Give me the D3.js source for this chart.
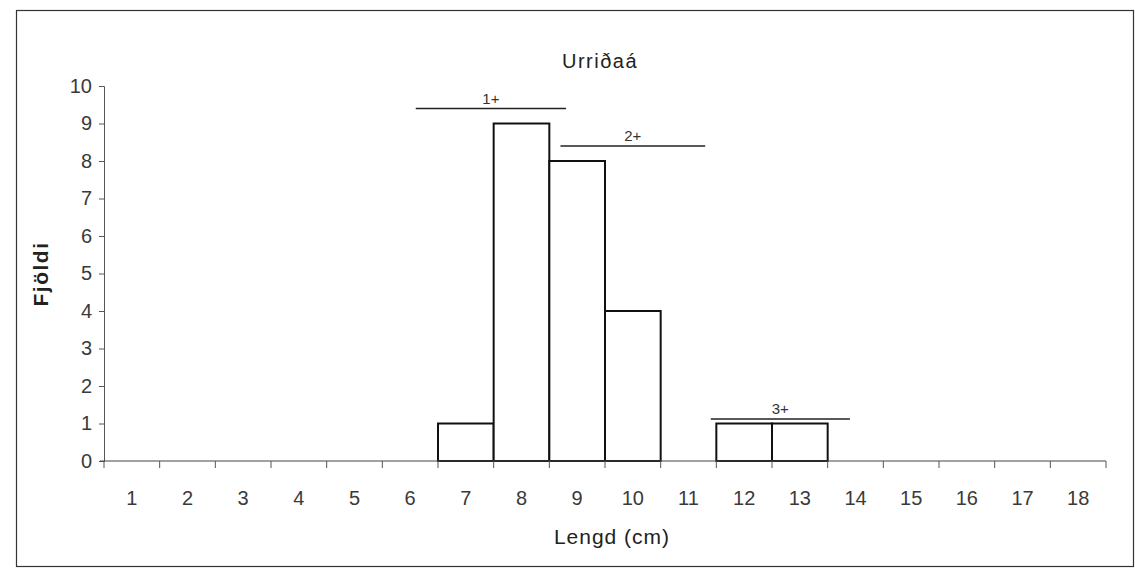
<!DOCTYPE html>
<html>
<head>
<meta charset="utf-8">
<script src="https://cdn.jsdelivr.net/npm/d3@7"></script>
<style>
  body { margin: 0; background: #fff; }
  svg { font-family: "Liberation Sans", Arial, sans-serif; }
</style>
</head>
<body>
<div class="chart"></div>
<script>
// length classes (cm) and number of fish in each
var lengths = [1, 2, 3, 4, 5, 6, 7, 8, 9, 10, 11, 12, 13, 14, 15, 16, 17, 18];
var counts = [0, 0, 0, 0, 0, 0, 1, 9, 8, 4, 0, 1, 1, 0, 0, 0, 0, 0];
var yTicks = [0, 1, 2, 3, 4, 5, 6, 7, 8, 9, 10];

// age groups drawn as lines over the bars (from/to in cm position, level in count)
var ageLabels = ["1+", "2+", "3+"];
var ageFrom = [6.1, 8.7, 11.4];
var ageTo = [8.8, 11.3, 13.9];
var ageLevel = [9.4, 8.4, 1.12];

var width = 1135, height = 574;
var margin = { left: 104, right: 29, top: 86, bottom: 113 };

var svg = d3.select(".chart").append("svg")
    .attr("width", width)
    .attr("height", height);

// outer frame
svg.append("rect")
    .attr("x", 16.5).attr("y", 10.5)
    .attr("width", 1117).attr("height", 556)
    .attr("fill", "none")
    .attr("stroke", "#333")
    .attr("stroke-width", 1.2);

var x = d3.scaleBand()
    .domain(lengths)
    .range([margin.left, width - margin.right])
    .padding(0);

var y = d3.scaleLinear()
    .domain([0, 10])
    .range([height - margin.bottom, margin.top]);

// continuous position along the x axis, in cm classes
var xc = d3.scaleLinear()
    .domain([0.5, lengths.length + 0.5])
    .range([margin.left, width - margin.right]);

// bars
var bars = lengths.map(function (l, i) { return { len: l, n: counts[i] }; })
    .filter(function (d) { return d.n > 0; });

svg.append("g")
    .selectAll("rect")
    .data(bars)
    .enter().append("rect")
    .attr("x", function (d) { return x(d.len); })
    .attr("y", function (d) { return y(d.n); })
    .attr("width", x.bandwidth())
    .attr("height", function (d) { return y(0) - y(d.n); })
    .attr("fill", "#fff")
    .attr("stroke", "#111")
    .attr("stroke-width", 2);

// y axis
var yAxis = svg.append("g")
    .attr("transform", "translate(" + margin.left + ",0)")
    .call(d3.axisLeft(y).tickValues(yTicks).tickSize(5).tickPadding(7).tickFormat(d3.format("d")));
yAxis.select(".domain").attr("stroke", "#555");
yAxis.selectAll(".tick line").attr("stroke", "#555");
yAxis.selectAll("text")
    .attr("font-size", 20)
    .attr("fill", "#3a3a3a");

// x axis: ticks on the class boundaries, labels in the middle
var xAxis = svg.append("g")
    .attr("transform", "translate(0," + y(0) + ")");
xAxis.append("line")
    .attr("x1", x.range()[0] - 4).attr("x2", x.range()[1])
    .attr("stroke", "#444").attr("stroke-width", 1.2);
xAxis.selectAll(".tk")
    .data(lengths.concat([lengths.length + 1]))
    .enter().append("line")
    .attr("class", "tk")
    .attr("x1", function (d) { return xc(d - 0.5); })
    .attr("x2", function (d) { return xc(d - 0.5); })
    .attr("y1", 0).attr("y2", 7)
    .attr("stroke", "#555");
xAxis.selectAll("text")
    .data(lengths)
    .enter().append("text")
    .attr("x", function (d) { return x(d) + x.bandwidth() / 2; })
    .attr("y", 44)
    .attr("text-anchor", "middle")
    .attr("font-size", 20)
    .attr("fill", "#3a3a3a")
    .text(function (d) { return d; });

// age group lines
var ages = svg.append("g");
ageLabels.forEach(function (lab, i) {
    ages.append("line")
        .attr("x1", xc(ageFrom[i])).attr("x2", xc(ageTo[i]))
        .attr("y1", y(ageLevel[i])).attr("y2", y(ageLevel[i]))
        .attr("stroke", "#222").attr("stroke-width", 1.4);
    ages.append("text")
        .attr("x", xc((ageFrom[i] + ageTo[i]) / 2))
        .attr("y", y(ageLevel[i]) - 5)
        .attr("text-anchor", "middle")
        .attr("font-size", 15)
        .attr("fill", "#333")
        .text(lab);
});

// titles
svg.append("text")
    .attr("x", 600).attr("y", 68)
    .attr("text-anchor", "middle")
    .attr("font-size", 20)
    .attr("letter-spacing", 1.5)
    .attr("fill", "#222")
    .text("Urriðaá");

svg.append("text")
    .attr("x", 612).attr("y", 544)
    .attr("text-anchor", "middle")
    .attr("font-size", 21)
    .attr("letter-spacing", 1)
    .attr("fill", "#222")
    .text("Lengd (cm)");

svg.append("text")
    .attr("transform", "translate(48,274) rotate(-90)")
    .attr("text-anchor", "middle")
    .attr("font-size", 21)
    .attr("font-weight", "bold")
    .attr("letter-spacing", 1.5)
    .attr("fill", "#222")
    .text("Fjöldi");
</script>
</body>
</html>
